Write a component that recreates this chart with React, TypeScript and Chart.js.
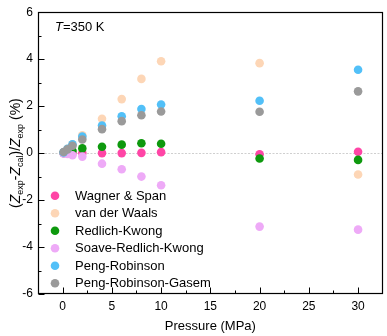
import { useEffect, useRef } from "react";
import { Chart, registerables } from "chart.js";

Chart.register(...registerables);

const pressures = [0.1, 0.5, 1, 2, 4, 6, 8, 10, 20, 30];
const wagnerSpan = [0, 0, 0, 0, 0, 0, 0.01, 0.04, -0.05, 0.06];
const vanDerWaals = [0.02, 0.18, 0.37, 0.76, 1.46, 2.3, 3.16, 3.91, 3.83, -0.91];
const redlichKwong = [0.01, 0.05, 0.1, 0.2, 0.27, 0.36, 0.42, 0.4, -0.23, -0.29];
const soaveRedlichKwong = [-0.01, -0.04, -0.09, -0.15, -0.45, -0.69, -1.0, -1.37, -3.13, -3.26];
const pengRobinson = [0.03, 0.18, 0.38, 0.7, 1.17, 1.57, 1.88, 2.07, 2.23, 3.55];
const pengRobinsonGasem = [0.05, 0.16, 0.31, 0.58, 1.02, 1.36, 1.61, 1.77, 1.76, 2.63];

const seriesNames = [
  "Wagner & Span",
  "van der Waals",
  "Redlich-Kwong",
  "Soave-Redlich-Kwong",
  "Peng-Robinson",
  "Peng-Robinson-Gasem",
];
const seriesValues = [
  wagnerSpan,
  vanDerWaals,
  redlichKwong,
  soaveRedlichKwong,
  pengRobinson,
  pengRobinsonGasem,
];
const seriesColors = ["#FF45A6", "#FDD6B6", "#0E990E", "#EEAAF7", "#52C0F8", "#9A9A9A"];

const xTicks = [0, 5, 10, 15, 20, 25, 30];
const xMinorTicks = [2.5, 7.5, 12.5, 17.5, 22.5, 27.5];
const yTicks = [-6, -4, -2, 0, 2, 4, 6];
const yMinorTicks = [-5, -3, -1, 1, 3, 5];

const FONT = "'Liberation Sans', Arial, Helvetica, sans-serif";

const decorPlugin = {
  id: "decor",
  beforeDatasetsDraw(chart: any) {
    const { ctx, chartArea } = chart;
    const y0 = chart.scales.y.getPixelForValue(0);
    ctx.save();
    ctx.strokeStyle = "#cfcfcf";
    ctx.lineWidth = 1;
    ctx.setLineDash([2, 1.5]);
    ctx.beginPath();
    ctx.moveTo(chartArea.left, Math.round(y0) + 0.5);
    ctx.lineTo(chartArea.right, Math.round(y0) + 0.5);
    ctx.stroke();
    ctx.restore();
  },
  afterDraw(chart: any) {
    const { ctx, chartArea } = chart;
    const xs = chart.scales.x;
    const ys = chart.scales.y;
    const L = Math.round(chartArea.left) + 0.5;
    const R = Math.round(chartArea.right) - 0.5;
    const T = Math.round(chartArea.top) + 0.5;
    const B = Math.round(chartArea.bottom) - 0.5;
    ctx.save();
    ctx.strokeStyle = "#000";
    ctx.lineWidth = 1.2;
    ctx.setLineDash([]);
    ctx.strokeRect(L, T, R - L, B - T);
    ctx.lineWidth = 1;
    ctx.beginPath();
    xTicks.forEach((v) => {
      const px = Math.round(xs.getPixelForValue(v)) + 0.5;
      ctx.moveTo(px, B);
      ctx.lineTo(px, B - 6);
    });
    xMinorTicks.forEach((v) => {
      const px = Math.round(xs.getPixelForValue(v)) + 0.5;
      ctx.moveTo(px, B);
      ctx.lineTo(px, B - 3);
    });
    yTicks.forEach((v) => {
      const py = Math.round(ys.getPixelForValue(v)) + 0.5;
      ctx.moveTo(L, py);
      ctx.lineTo(L + 6, py);
    });
    yMinorTicks.forEach((v) => {
      const py = Math.round(ys.getPixelForValue(v)) + 0.5;
      ctx.moveTo(L, py);
      ctx.lineTo(L + 3, py);
    });
    ctx.stroke();

    // Y axis title with italic Z and subscripts
    const main = 14;
    const sub = 9;
    const parts: [string, "n" | "i" | "s"][] = [
      ["(", "n"],
      ["Z", "i"],
      ["exp", "s"],
      ["-", "n"],
      ["Z", "i"],
      ["cal", "s"],
      [")/", "n"],
      ["Z", "i"],
      ["exp", "s"],
      [" (%)", "n"],
    ];
    const fontFor = (k: string) =>
      k === "i" ? `italic ${main}px ${FONT}` : k === "s" ? `${sub}px ${FONT}` : `${main}px ${FONT}`;
    let total = 0;
    parts.forEach(([t, k]) => {
      ctx.font = fontFor(k);
      total += ctx.measureText(t).width;
    });
    ctx.translate(15, (chartArea.top + chartArea.bottom) / 2);
    ctx.rotate(-Math.PI / 2);
    ctx.fillStyle = "#000";
    ctx.textBaseline = "alphabetic";
    ctx.textAlign = "left";
    let x = -total / 2;
    parts.forEach(([t, k]) => {
      ctx.font = fontFor(k);
      ctx.fillText(t, x, k === "s" ? 8 : 5);
      x += ctx.measureText(t).width;
    });
    ctx.setTransform(1, 0, 0, 1, 0, 0);

    // annotation T=350 K
    ctx.textBaseline = "middle";
    ctx.font = `italic 13px ${FONT}`;
    ctx.fillText("T", 55, 27);
    const tw = ctx.measureText("T").width;
    ctx.font = `13px ${FONT}`;
    ctx.fillText("=350 K", 55 + tw, 27);

    // legend
    chart.data.datasets.forEach((ds: any, i: number) => {
      const cy = 195.7 + i * 17.5;
      ctx.beginPath();
      ctx.fillStyle = ds.backgroundColor;
      ctx.arc(55, cy, 4.3, 0, Math.PI * 2);
      ctx.fill();
      ctx.fillStyle = "#000";
      ctx.font = `13px ${FONT}`;
      ctx.fillText(ds.label, 75, cy + 0.5);
    });
    ctx.restore();
  },
};

export default function App() {
  const ref = useRef<HTMLCanvasElement | null>(null);
  useEffect(() => {
    if (!ref.current) return;
    const datasets = seriesNames.map((name, i) => ({
      label: name,
      data: pressures.map((p, j) => ({ x: p, y: seriesValues[i][j] })),
      backgroundColor: seriesColors[i],
      borderWidth: 0,
      pointRadius: 4.3,
      pointHoverRadius: 4.3,
      order: seriesNames.length - i,
    }));
    const chart = new Chart(ref.current, {
      type: "scatter",
      data: { datasets },
      options: {
        responsive: false,
        animation: false,
        layout: { padding: { left: 0, top: 6, right: 3, bottom: 0 } },
        plugins: { legend: { display: false }, tooltip: { enabled: false } },
        scales: {
          x: {
            type: "linear",
            min: -2.5,
            max: 32.5,
            afterBuildTicks: (s: any) => {
              s.ticks = xTicks.map((v) => ({ value: v }));
            },
            afterFit: (s: any) => {
              s.height = 42;
            },
            grid: { display: false, drawTicks: false },
            border: { display: false },
            ticks: {
              font: { family: FONT, size: 12 },
              color: "#000",
              padding: 5,
              maxRotation: 0,
              autoSkip: false,
            },
            title: {
              display: true,
              text: "Pressure (MPa)",
              font: { family: FONT, size: 13 },
              color: "#000",
              padding: { top: 0, bottom: 2 },
            },
          },
          y: {
            type: "linear",
            min: -6,
            max: 6,
            afterBuildTicks: (s: any) => {
              s.ticks = yTicks.map((v) => ({ value: v }));
            },
            afterFit: (s: any) => {
              s.width = 38;
            },
            grid: { display: false, drawTicks: false },
            border: { display: false },
            ticks: {
              font: { family: FONT, size: 12 },
              color: "#000",
              padding: 5,
              autoSkip: false,
            },
          },
        },
      },
      plugins: [decorPlugin],
    });
    return () => chart.destroy();
  }, []);
  return (
    <div style={{ position: "fixed", left: 0, top: 0, width: 387, height: 336, background: "#fff" }}>
      <canvas ref={ref} width={387} height={336} style={{ display: "block" }} />
    </div>
  );
}
